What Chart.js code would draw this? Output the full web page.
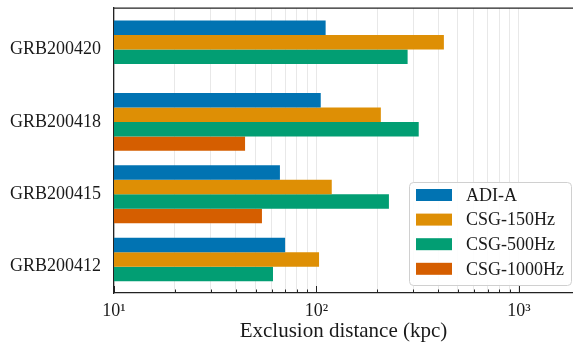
<!DOCTYPE html>
<html>
<head>
<meta charset="utf-8">
<script src="https://cdn.jsdelivr.net/npm/chart.js@4.4.0/dist/chart.umd.min.js"></script>
<style>
  html, body { margin: 0; padding: 0; background: #fff; }
  #wrap { width: 573px; height: 342px; }
</style>
</head>
<body>
<div id="wrap"><canvas id="chart"></canvas></div>
<script>
// Exclusion distances (kpc) per GRB, one array per search
const grbs = ['GRB200420', 'GRB200418', 'GRB200415', 'GRB200412'];
const seriesNames = ['ADI-A', 'CSG-150Hz', 'CSG-500Hz', 'CSG-1000Hz'];
const adiA = [111, 105, 66, 70];
const csg150 = [426, 208, 119, 103];
const csg500 = [282, 320, 228, 61];
const csg1000 = [null, 44.4, 53.8, null];
const xTickLabels = ['10¹', '10²', '10³'];

const colors = ['#0173b2', '#de8f05', '#029e73', '#d55e00'];
const serif = "'Liberation Serif', 'DejaVu Serif', serif";

const allSeries = [adiA, csg150, csg500, csg1000];

const datasets = allSeries.map((vals, k) => ({
    label: seriesNames[k],
    data: vals.map((v, i) => ({ x: v, y: i })),
    backgroundColor: colors[k],
    borderWidth: 0,
    categoryPercentage: 0.8,
    barPercentage: 1.0
}));

// frame top line, inward ticks and the legend box
const decorations = {
    id: 'decorations',
    afterDraw(chart) {
        const { ctx, chartArea } = chart;
        const xs = chart.scales.x;
        ctx.save();

        ctx.strokeStyle = '#222';
        ctx.lineWidth = 1.25;
        ctx.beginPath();
        ctx.moveTo(chartArea.left, chartArea.top);
        ctx.lineTo(chartArea.right, chartArea.top);
        ctx.stroke();

        ctx.lineWidth = 1;
        xs.ticks.forEach(t => {
            const px = Math.round(xs.getPixelForValue(t.value)) + 0.5;
            const major = Math.abs(Math.log10(t.value) - Math.round(Math.log10(t.value))) < 1e-9;
            const len = major ? 7 : 3.5;
            ctx.beginPath();
            ctx.moveTo(px, chartArea.bottom);
            ctx.lineTo(px, chartArea.bottom - len);
            ctx.stroke();
        });

        // legend
        const lx = 409, ly = 182, lw = 162, lh = 103;
        ctx.fillStyle = 'rgba(255,255,255,0.9)';
        ctx.strokeStyle = '#d0d0d0';
        ctx.lineWidth = 1;
        ctx.beginPath();
        ctx.roundRect(lx + 0.5, ly + 0.5, lw, lh, 4);
        ctx.fill();
        ctx.stroke();

        ctx.font = '18px ' + serif;
        ctx.textBaseline = 'middle';
        ctx.textAlign = 'left';
        seriesNames.forEach((name, k) => {
            const cy = ly + 13 + k * 24.6;
            ctx.fillStyle = colors[k];
            ctx.fillRect(lx + 7, cy - 6, 36, 12);
            ctx.fillStyle = '#1a1a1a';
            ctx.fillText(name, lx + 57, cy + 1);
        });

        ctx.restore();
    }
};

new Chart(document.getElementById('chart'), {
    type: 'bar',
    data: { datasets },
    options: {
        indexAxis: 'y',
        responsive: true,
        maintainAspectRatio: false,
        animation: false,
        layout: { padding: { top: 8, right: 0, left: 0, bottom: 0 } },
        plugins: {
            legend: { display: false },
            tooltip: { enabled: false }
        },
        scales: {
            x: {
                type: 'logarithmic',
                min: 10,
                max: 1850,
                offset: false,
                afterBuildTicks: scale => {
                    const ticks = [];
                    for (let e = 1; e <= 3; e++) {
                        for (let m = 1; m <= 9; m++) {
                            const v = m * Math.pow(10, e);
                            if (v <= scale.max) ticks.push({ value: v });
                        }
                    }
                    scale.ticks = ticks;
                },
                afterFit: scale => {
                    scale.height = 49;
                    scale.paddingLeft = 0;
                    scale.paddingRight = 0;
                },
                grid: { color: '#e8e8e8', lineWidth: 1, drawTicks: false, offset: false },
                border: { color: '#222', width: 1.25 },
                ticks: {
                    autoSkip: false,
                    maxRotation: 0,
                    padding: 7,
                    color: '#1a1a1a',
                    font: { family: serif, size: 18 },
                    callback: v => {
                        const e = Math.log10(v);
                        if (Math.abs(e - Math.round(e)) < 1e-9) return xTickLabels[Math.round(e) - 1];
                        return '';
                    }
                },
                title: {
                    display: true,
                    text: 'Exclusion distance (kpc)',
                    color: '#1a1a1a',
                    font: { family: serif, size: 21 },
                    padding: { top: 0, bottom: -2 }
                }
            },
            y: {
                type: 'linear',
                reverse: true,
                min: -0.574,
                max: 3.364,
                offset: false,
                afterBuildTicks: scale => {
                    scale.ticks = grbs.map((_, i) => ({ value: i }));
                },
                afterFit: scale => {
                    scale.width = 114;
                    scale.paddingTop = 0;
                    scale.paddingBottom = 0;
                },
                grid: { display: false, drawTicks: false, offset: false },
                border: { color: '#222', width: 1.25 },
                ticks: {
                    padding: 13,
                    color: '#1a1a1a',
                    font: { family: serif, size: 18 },
                    callback: v => grbs[v]
                }
            }
        }
    },
    plugins: [decorations]
});
</script>
</body>
</html>
